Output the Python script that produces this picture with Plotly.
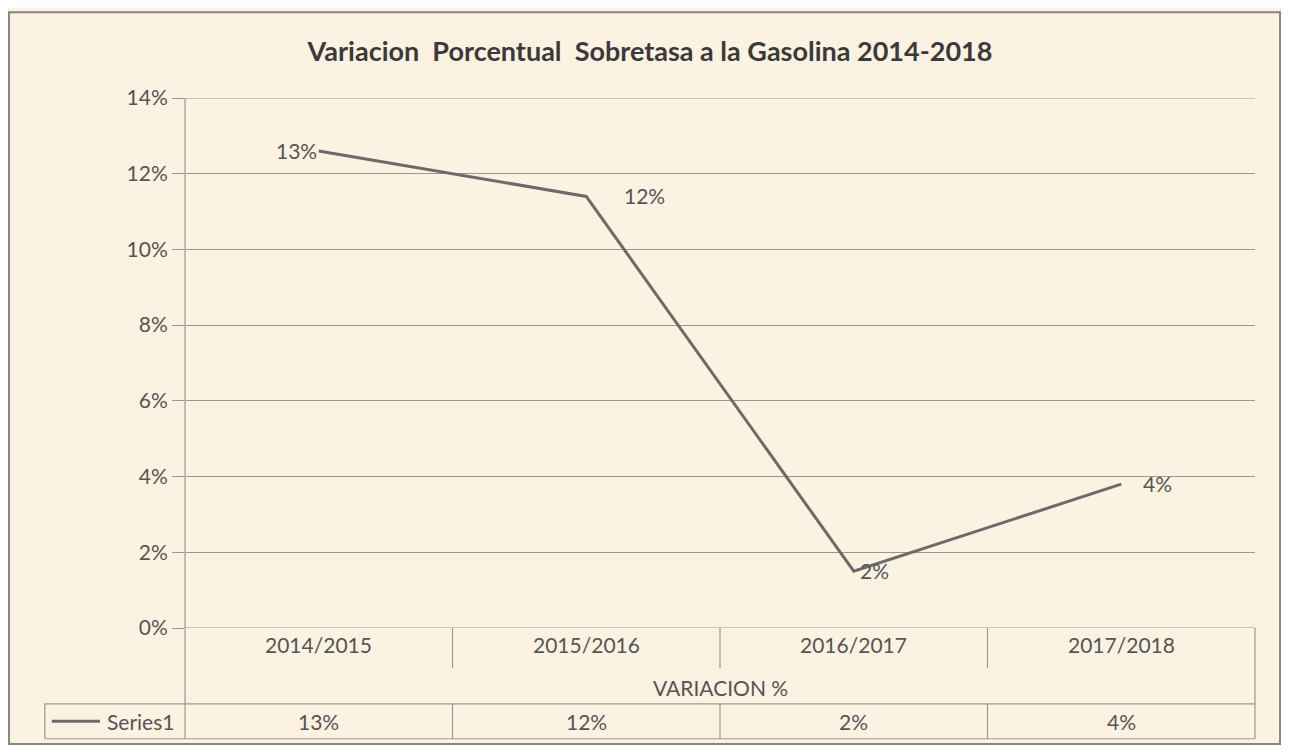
import plotly.graph_objects as go

# datos
periodos = ["2014/2015", "2015/2016", "2016/2017", "2017/2018"]
variacion = [0.126, 0.114, 0.015, 0.038]
etiquetas = ["13%", "12%", "2%", "4%"]
y_ticks = [0, 0.02, 0.04, 0.06, 0.08, 0.10, 0.12, 0.14]
y_ticktext = ["0%", "2%", "4%", "6%", "8%", "10%", "12%", "14%"]

# desplazamiento de cada etiqueta (px) y anclaje
label_dx = [0, 36, 4, 20]
label_anchor = ["right", "left", "left", "left"]

FONT = "Lato, Open Sans, sans-serif"
TXT = "#555555"
LINEA = "#6b6b6b"
BORDE = "#9c978f"
FONDO = "#fbf2e1"
FS = 21

fig = go.Figure()

fig.add_trace(go.Scatter(
    x=periodos, y=variacion,
    mode="lines",
    line=dict(color=LINEA, width=3),
    showlegend=False,
    cliponaxis=False
))

# === Tabla de datos bajo el eje ===
y_cat_bot = -0.0755
y_ser_top = -0.143
y_ser_bot = -0.209
y_ser_mid = (y_ser_top + y_ser_bot) / 2
shapes = []
# linea superior (14%) y linea 0%
for yv in [y_ticks[0], y_ticks[-1]]:
    shapes.append(dict(type="line", xref="paper", yref="y", x0=0, x1=1,
                       y0=yv, y1=yv, line=dict(color=BORDE, width=1.2)))
# bordes izquierdo y derecho de la tabla / eje
for xv in [0, 1]:
    y0 = 1.0 if xv == 0 else 0.0
    shapes.append(dict(type="line", xref="paper", yref="paper", x0=xv, x1=xv,
                       y0=y0, y1=y_ser_bot, line=dict(color=BORDE, width=1.2)))
# divisores internos
for i in range(len(periodos) - 1):
    for (a, b) in [(0, y_cat_bot), (y_ser_top, y_ser_bot)]:
        shapes.append(dict(type="line", xref="x", yref="paper", x0=i + 0.5, x1=i + 0.5,
                           y0=a, y1=b, line=dict(color=BORDE, width=1.2)))
# fila de la serie
for yv in [y_ser_top, y_ser_bot]:
    shapes.append(dict(type="line", xref="paper", yref="paper", x0=-0.131, x1=1,
                       y0=yv, y1=yv, line=dict(color=BORDE, width=1.2)))
shapes.append(dict(type="line", xref="paper", yref="paper", x0=-0.131, x1=-0.131,
                   y0=y_ser_top, y1=y_ser_bot, line=dict(color=BORDE, width=1.2)))
# clave de leyenda
shapes.append(dict(type="line", xref="paper", yref="paper", x0=-0.1245, x1=-0.0795,
                   y0=y_ser_mid, y1=y_ser_mid, line=dict(color=LINEA, width=3)))
# marco exterior
shapes.append(dict(type="rect", xref="paper", yref="paper", x0=-0.1645, x1=1.0234,
                   y0=-0.219, y1=1.162, line=dict(color="#8a857d", width=2),
                   layer="below"))

annotations = []
# etiquetas de datos
for p, v, e, dx, anc in zip(periodos, variacion, etiquetas, label_dx, label_anchor):
    annotations.append(dict(x=p, xref="x", y=v, yref="y", text=e, showarrow=False,
                            xanchor=anc, yanchor="middle", xshift=dx, yshift=1,
                            font=dict(size=FS, color=TXT, family=FONT)))
for p, e in zip(periodos, etiquetas):
    annotations.append(dict(x=p, xref="x", y=-0.032, yref="paper", text=p,
                            yanchor="middle", showarrow=False,
                            font=dict(size=FS, color=TXT, family=FONT)))
    annotations.append(dict(x=p, xref="x", y=y_ser_mid, yref="paper",
                            text=e, yanchor="middle", showarrow=False,
                            font=dict(size=FS, color=TXT, family=FONT)))
annotations.append(dict(x=0.5, xref="paper", y=-0.113, yref="paper", text="VARIACION %",
                        yanchor="middle", showarrow=False,
                        font=dict(size=FS, color=TXT, family=FONT)))
annotations.append(dict(x=-0.008, xref="paper", y=y_ser_mid, yref="paper",
                        text="Series1", xanchor="right", yanchor="middle", showarrow=False,
                        font=dict(size=FS, color=TXT, family=FONT)))

fig.update_layout(
    width=1273, height=737,
    margin=dict(l=177, r=26, t=90, b=117),
    paper_bgcolor=FONDO,
    plot_bgcolor=FONDO,
    title=dict(
        text="<b>Variacion  Porcentual  Sobretasa a la Gasolina 2014-2018</b>",
        font=dict(size=27, family=FONT, color="#3a3a3a"),
        x=642 / 1273, xanchor="center", y=1 - 44 / 737, yanchor="middle"
    ),
    xaxis=dict(type="category", range=[-0.5, 3.5], showticklabels=False,
               showgrid=False, zeroline=False, showline=False),
    yaxis=dict(range=[0, 0.14], tickvals=y_ticks, ticktext=y_ticktext,
               showgrid=True, gridcolor=BORDE, gridwidth=1.2, zeroline=False,
               ticks="outside", ticklen=12, tickcolor=BORDE,
               tickfont=dict(size=FS, color=TXT, family=FONT)),
    shapes=shapes,
    annotations=annotations
)

fig.write_html("out.html")
